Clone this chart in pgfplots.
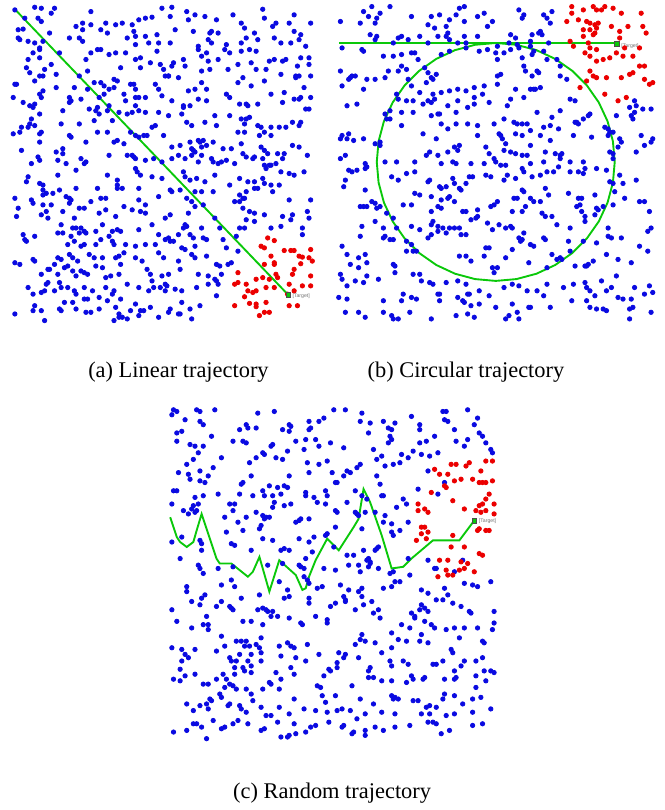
\documentclass[border=0pt]{standalone}
\usepackage{pgfplots}
\pgfplotsset{compat=1.18}
\usepackage{fontspec}
\setmainfont{Liberation Serif}
\newfontfamily\sanstiny{Liberation Sans}
\definecolor{dotblue}{RGB}{10,10,225}
\definecolor{dotred}{RGB}{235,0,0}
\definecolor{trajgreen}{RGB}{10,200,10}
\pgfplotsset{
  panel/.style={scale only axis, hide axis, clip=false, y dir=reverse, xmin=0, ymin=0},
  bdots/.style={only marks, mark=*, mark size=1.1pt, color=dotblue, mark options={draw=dotblue, fill=dotblue}},
  rdots/.style={only marks, mark=*, mark size=1.1pt, color=dotred, mark options={draw=dotred, fill=dotred}},
  traj/.style={trajgreen, line width=0.95pt, no marks},
  tgt/.style={only marks, mark=square*, mark size=1.2pt, mark options={draw=black!70, fill=trajgreen, line width=0.2pt}},
}
\begin{document}
\begin{tikzpicture}
\path (0pt,0pt) rectangle (335pt,405pt);
% ---------------- panel (a)
\begin{axis}[panel, at={(0pt,405pt)}, anchor=north west, width=165pt, height=165pt, xmax=990, ymax=990]
\addplot[bdots] coordinates {
(45,30)(105,22)(125,25)(165,25)(155,40)(115,55)(125,65)(75,55)(275,35)(250,70)(275,75)(230,80)(320,70)(350,75)(370,70)(400,75)(420,60)(440,55)(460,52)(490,25)(520,22)(515,50)(565,35)(590,45)(570,60)(620,50)(655,60)(705,45)(730,70)(740,85)(795,28)(800,55)(825,80)(835,70)(875,70)(890,45)(890,95)(910,105)(940,70)
(55,90)(70,88)(55,115)(60,120)(150,100)(130,125)(85,125)(105,130)(120,145)(210,115)(240,115)(250,125)(325,100)(250,90)(305,90)(385,115)(405,95)(410,110)(410,135)(440,110)(475,105)(450,130)(480,130)(515,130)(530,90)(585,95)(640,95)(635,100)(660,100)(630,120)(640,130)(600,140)(685,135)(730,130)(745,115)(770,100)(780,120)(830,115)(850,130)(905,120)(925,140)(880,130)
(85,180)(120,150)(100,160)(120,175)(180,160)(275,160)(295,150)(305,150)(330,165)(350,160)(380,160)(410,180)(425,175)(475,155)(455,190)(485,195)(525,190)(555,180)(600,150)(610,170)(625,160)(630,185)(660,180)(680,150)(695,160)(730,155)(755,150)(775,155)(815,185)(830,180)(855,185)(865,180)(910,175)(935,175)(775,210)(805,210)(80,205)(90,220)(135,210)(155,195)(170,225)(260,180)(265,215)(365,205)(425,205)(495,210)(510,230)(520,200)(560,200)(610,215)(635,210)(690,210)(720,195)(760,190)(850,225)(895,230)(900,200)(905,230)(935,195)(940,230)
(45,255)(50,255)(105,245)(120,230)(130,275)(120,285)(125,295)(130,230)(225,265)(240,230)(265,270)(285,250)(305,250)(315,260)(330,270)(345,265)(345,240)(355,245)(375,285)(395,255)(410,270)(405,255)(470,255)(480,270)(500,230)(510,230)(540,235)(570,275)(590,270)(610,250)(625,270)(720,250)(735,235)(760,260)(800,245)(860,280)(895,235)(920,265)(940,295)(40,295)(170,265)(210,295)(215,305)(245,300)(300,295)(315,285)(380,305)(410,295)(420,295)(440,295)(490,290)(520,305)(555,320)(575,320)(600,300)(625,305)(685,285)(695,295)(725,315)(745,315)(750,320)(780,315)(820,285)(855,310)(890,300)(905,300)(910,295)(925,330)
(70,310)(90,320)(100,325)(105,315)(120,345)(95,360)(90,375)(105,380)(65,385)(85,385)(60,400)(120,405)(125,400)(190,335)(185,375)(210,310)(240,375)(270,330)(290,335)(300,345)(295,325)(285,365)(325,335)(330,320)(340,365)(360,340)(385,345)(400,340)(410,320)(420,335)(440,340)(480,340)(510,350)(550,345)(555,325)(565,370)(580,380)(620,370)(650,350)(655,380)(695,350)(730,360)(745,360)(755,355)(740,375)(720,400)(740,400)(780,380)(790,385)(800,400)(820,385)(845,385)(865,385)(885,370)(905,380)(910,370)(935,330)(820,410)(785,410)(40,405)
(120,430)(65,455)(170,460)(190,450)(190,465)(210,410)(215,415)(260,430)(295,400)(325,400)(355,425)(345,430)(375,435)(395,400)(410,410)(420,415)(435,410)(445,410)(470,380)(460,385)(495,410)(520,445)(545,440)(575,430)(580,450)(585,455)(590,460)(600,425)(605,430)(615,425)(610,445)(625,440)(645,430)(675,450)(700,450)(730,435)(790,445)(800,455)(810,465)(840,465)(860,465)(885,440)(905,445)(770,475)(765,480)(795,480)(930,470)
(95,495)(115,475)(120,485)(175,485)(200,495)(245,480)(255,495)(260,490)(330,470)(385,470)(400,470)(405,475)(410,480)(440,485)(465,480)(490,490)(520,480)(540,470)(560,480)(580,470)(600,490)(610,470)(640,480)(645,490)(660,495)(670,490)(685,485)(710,495)(735,465)(745,475)(800,500)(805,510)(815,500)(820,500)(835,495)(855,480)(850,520)(875,525)(890,530)(920,520)(85,535)(80,550)(120,555)(130,560)(175,530)(230,515)(325,530)(355,545)(410,510)(415,520)(425,530)(460,535)(490,540)(555,520)(560,535)(575,545)(595,540)(620,550)(650,530)(725,540)(750,550)(770,550)(795,540)(800,555)(820,560)(845,560)
(45,600)(95,605)(130,575)(140,585)(130,590)(160,585)(180,575)(200,595)(210,600)(215,605)(210,615)(230,570)(275,610)(295,570)(305,600)(320,600)(355,560)(355,570)(370,570)(420,570)(420,605)(440,620)(480,595)(515,575)(520,580)(545,575)(565,600)(580,610)(590,580)(610,580)(645,580)(695,560)(725,590)(735,600)(745,580)(740,600)(770,570)(780,570)(825,580)(875,605)(940,605)(710,610)(725,610)(55,630)(100,615)(130,620)(140,640)(145,660)(125,650)(190,640)(225,660)(240,630)(255,630)(300,645)(320,635)(350,655)(375,625)(400,635)(425,640)(440,645)(500,660)(515,650)(570,645)(590,625)(615,620)(650,660)(735,630)(755,640)(770,645)(800,650)(855,655)(885,650)(930,640)(935,660)(50,655)(155,620)
(185,680)(190,705)(220,690)(230,690)(245,690)(255,700)(240,705)(260,705)(290,700)(310,680)(340,700)(355,695)(365,700)(330,715)(420,695)(460,680)(480,710)(510,720)(525,730)(540,710)(560,680)(565,685)(555,690)(575,710)(610,690)(615,720)(665,690)(715,715)(725,690)(740,690)(745,665)(770,670)(820,690)(850,685)(880,665)(915,690)(915,710)(70,710)(75,725)(80,730)(105,715)(175,705)(205,740)(215,715)(225,730)(245,745)(255,740)(290,740)(305,725)(340,730)(345,740)(380,740)(375,765)(410,745)(440,740)(470,740)(500,725)(515,730)(550,750)(560,755)(585,720)(590,745)(625,725)(675,725)(685,750)(720,760)
(45,795)(60,800)(100,785)(105,790)(175,780)(185,785)(205,805)(210,770)(220,780)(235,790)(270,770)(285,780)(310,780)(350,780)(360,775)(365,800)(410,780)(430,790)(480,765)(495,780)(540,790)(580,770)(590,780)(625,775)(655,800)(665,805)(690,800)(700,795)(125,830)(145,815)(150,815)(165,800)(175,830)(180,855)(195,810)(220,820)(230,835)(245,820)(255,825)(265,830)(290,805)(310,810)(320,840)(335,835)(360,830)(385,860)(445,815)(455,830)(460,850)(490,835)(510,830)(545,815)(600,830)(630,835)(655,850)(660,860)(650,845)(670,830)(500,860)(485,870)(505,865)
(85,870)(140,860)(145,855)(100,890)(125,885)(135,880)(165,880)(185,870)(205,870)(225,880)(230,890)(255,870)(255,905)(265,905)(280,880)(300,900)(320,870)(345,880)(340,890)(365,905)(420,870)(450,880)(465,870)(500,880)(530,875)(550,880)(595,870)(630,860)(655,895)(105,925)(100,940)(125,940)(180,935)(185,940)(195,915)(220,915)(230,935)(260,945)(275,945)(300,935)(325,910)(350,930)(360,950)(395,940)(410,920)(425,940)(435,940)(455,930)(515,935)(540,950)(550,915)(575,935)(605,925)(45,950)(135,970)(345,970)(360,960)(370,960)(385,965)(420,955)(480,960)(510,945)(545,950)(580,965)
};
\addplot[rdots] coordinates {
(810,720)(830,728)(790,745)(800,750)(860,758)(880,758)(890,758)(940,755)(905,775)(915,778)(935,780)(945,790)(820,775)(830,795)(830,800)(800,800)(910,798)(720,825)(710,860)(720,855)(745,860)(775,845)(795,840)(815,845)(835,830)(840,840)(885,830)(890,815)(940,835)(940,865)(915,865)(875,860)(750,880)(765,885)(740,898)(775,880)(805,870)(830,870)(890,880)(870,890)(710,925)(755,918)(775,920)(775,928)(805,915)(800,945)(815,945)(785,955)(875,925)(900,925)
};
\addplot[traj] coordinates {(45,28) (870,890)};
\addplot[tgt] coordinates {(872,892)};
\node[anchor=west, inner sep=0pt, font=\sanstiny\fontsize{2.6}{3}\selectfont, text=black!55] at (axis cs:884,895) {[Target]};
\end{axis}
% ---------------- panel (b)
\begin{axis}[panel, at={(167.5pt,405pt)}, anchor=north west, width=167.5pt, height=165pt, xmax=1005, ymax=990]
\addplot[bdots] coordinates {
(25,65)(95,35)(120,20)(175,20)(145,40)(135,55)(110,50)(85,70)(130,70)(240,50)(290,75)(300,50)(310,85)(325,45)(345,80)(355,60)(375,45)(385,25)(400,20)(400,65)(440,50)(460,40)(470,80)(485,65)(565,30)(575,55)(580,45)(640,45)(665,35)(660,70)(650,55)(630,95)
(115,105)(135,110)(130,120)(185,130)(200,115)(210,110)(230,120)(265,110)(290,130)(320,110)(345,110)(350,100)(355,120)(380,130)(400,110)(405,130)(440,110)(540,105)(555,115)(605,105)(625,100)(635,105)(655,130)(535,130)(600,125)
(30,145)(90,150)(95,155)(155,170)(185,170)(210,165)(240,160)(250,160)(260,180)(330,165)(355,155)(405,145)(445,155)(470,150)(495,160)(500,180)(520,160)(540,150)(565,145)(575,175)(600,140)(605,165)(610,155)(640,155)(650,180)(680,180)(690,200)(500,140)(560,135)
(25,215)(50,240)(55,235)(60,230)(70,230)(95,270)(105,240)(130,240)(160,235)(170,215)(200,215)(210,200)(225,210)(230,240)(280,205)(290,220)(300,235)(305,240)(315,225)(285,250)(240,260)(265,280)(305,285)(330,280)(355,275)(380,270)(405,275)(430,265)(460,260)(500,255)(510,225)(500,230)(555,270)(580,200)(585,215)(605,230)(620,215)(625,220)(600,270)(580,295)(610,270)(615,270)(630,265)(690,230)(710,240)(30,260)(195,285)(200,300)(245,305)(275,315)(290,305)(300,310)(310,300)(225,305)(720,300)(735,305)(540,300)(45,320)(75,315)(350,320)(380,305)(430,295)(455,285)(475,310)
(160,345)(175,335)(210,340)(245,340)(300,350)(320,345)(325,345)(375,340)(410,325)(430,315)(530,320)(620,340)(665,355)(690,335)(735,370)(740,370)(745,375)(760,360)(775,350)(780,345)(860,350)(905,350)(915,340)(940,330)(965,330)(920,320)(900,325)(915,305)(910,360)(165,360)(175,360)(210,380)(330,375)(350,390)(375,375)(410,375)(440,380)(490,375)(520,360)(550,370)(560,375)(575,375)(590,375)(600,395)(640,385)(660,380)(685,390)(730,410)(825,385)(835,390)(840,400)(850,400)(30,410)(50,405)(45,420)(65,425)(95,420)(275,405)(315,420)
(25,420)(130,435)(145,430)(145,440)(385,440)(440,410)(505,405)(510,410)(515,420)(525,435)(555,405)(575,410)(600,440)(630,410)(660,425)(785,415)(835,410)(870,420)(875,430)(920,460)(935,410)(945,440)(970,420)(965,430)(865,445)(295,460)(320,470)(350,460)(370,445)(380,455)(465,445)(475,465)(490,480)(495,490)(520,455)(540,460)(555,465)(575,470)(590,470)(645,460)(675,465)(690,470)(695,465)(690,480)(760,490)(840,460)(850,465)(850,480)(25,480)(40,470)(100,495)(160,490)(195,490)(250,490)(285,470)(330,495)(365,490)(375,495)(420,495)(460,495)(510,500)(525,500)(600,495)(640,490)(685,505)(720,490)(765,510)
(50,515)(60,520)(75,515)(100,510)(105,505)(40,545)(35,565)(180,535)(225,525)(250,520)(290,550)(295,545)(325,565)(330,570)(345,565)(365,540)(370,555)(385,570)(390,575)(405,555)(415,535)(425,535)(465,530)(480,535)(520,545)(530,530)(555,540)(575,510)(580,520)(605,535)(630,530)(650,520)(670,520)(720,520)(745,520)(760,525)(800,510)(830,515)(870,530)(880,555)(920,545)(840,550)(850,555)(100,575)(200,545)(575,575)(580,580)(600,600)(645,570)(655,590)(715,585)(745,600)(755,600)(795,590)(855,580)(885,600)(930,610)(300,595)(330,605)(350,600)(355,595)(370,610)(250,585)(265,590)(550,600)(560,600)(610,610)
(85,625)(95,625)(105,625)(120,610)(130,615)(135,630)(145,625)(165,645)(185,660)(215,620)(240,620)(300,640)(320,625)(330,630)(395,640)(405,640)(440,635)(440,655)(480,625)(490,620)(500,610)(545,640)(575,640)(585,625)(630,610)(635,645)(645,655)(665,655)(680,680)(740,625)(750,620)(755,640)(800,630)(805,635)(820,625)(850,620)(765,655)(765,670)(960,640)(90,685)(130,670)(155,690)(195,690)(240,685)(265,695)(300,680)(305,670)(320,685)(335,690)(345,705)(355,690)(370,690)(385,690)(390,710)(420,665)(435,660)(470,675)(485,695)(505,680)(525,690)(540,685)(565,720)(580,705)(545,690)(965,690)(955,700)(835,690)(720,690)(795,650)(945,610)
(85,715)(30,745)(45,770)(55,800)(80,780)(100,770)(105,795)(155,720)(160,715)(175,725)(185,725)(225,730)(240,740)(225,760)(245,760)(255,760)(290,720)(300,710)(320,700)(405,710)(465,750)(475,750)(545,755)(575,725)(570,730)(600,740)(610,745)(640,720)(645,725)(665,770)(690,780)(695,785)(715,730)(720,760)(760,730)(800,735)(835,715)(845,720)(875,720)(930,745)(955,760)(385,775)(405,775)(460,775)(420,790)(500,810)(485,810)(490,825)(525,780)(595,795)(650,810)(680,785)(735,805)(765,805)(770,805)(775,800)(790,790)(830,770)(865,785)(905,795)(80,810)
(25,830)(30,845)(45,865)(70,850)(95,855)(105,835)(140,845)(185,800)(190,805)(190,825)(245,830)(265,830)(270,850)(295,855)(305,860)(320,890)(325,890)(325,910)(345,855)(380,850)(405,860)(410,890)(415,890)(445,880)(475,895)(520,870)(545,860)(565,865)(590,880)(620,880)(640,895)(650,860)(700,870)(730,860)(765,855)(770,870)(780,880)(795,895)(815,850)(830,880)(845,870)(860,835)(865,900)(880,905)(905,905)(915,870)(945,890)(960,865)(970,885)(20,900)(45,905)(155,910)(210,910)(215,890)(240,900)(255,905)(380,900)(395,910)(400,915)(420,925)(445,920)(495,930)(545,920)(560,945)(600,930)(660,930)(725,910)(770,910)(780,930)(800,935)(820,935)(830,940)(900,935)(910,930)(40,945)(80,945)(100,960)(155,945)(180,955)(185,965)(200,965)(235,945)(300,965)(375,955)(410,950)(430,960)(525,965)(535,955)(565,965)(595,930)(900,965)(965,945)
};
\addplot[rdots] coordinates {
(725,20)(725,40)(760,30)(790,20)(800,30)(815,30)(825,20)(850,25)(875,40)(935,40)(710,65)(745,60)(770,65)(780,70)(795,75)(805,70)(800,85)(760,90)(780,90)(790,105)(795,100)(845,80)(870,95)(895,80)(940,80)(950,100)(870,115)(760,110)(720,125)(775,130)(780,145)(800,150)(730,140)(765,160)(780,170)(800,185)(820,180)(840,175)(860,160)(880,170)(910,170)(930,145)(885,145)(780,215)(790,230)(800,235)(770,245)(830,235)(875,235)(900,225)(910,220)(930,200)(945,200)(945,240)(960,255)(970,250)(750,265)(825,285)(890,295)(865,305)
};
\addplot[traj] coordinates {(20,130) (860,130)};
\addplot[traj] coordinates {
(855,490)(849.5,427.5)(833.3,366.9)(806.8,310)(770.8,258.6)(726.4,214.2)(675,178.2)(618.1,151.7)(557.5,135.5)(495,130)(432.5,135.5)(371.9,151.7)(315,178.2)(263.6,214.2)(219.2,258.6)(183.2,310)(156.7,366.9)(140.5,427.5)(135,490)(140.5,552.5)(156.7,613.1)(183.2,670)(219.2,721.4)(263.6,765.8)(315,801.8)(371.9,828.3)(432.5,844.5)(495,850)(557.5,844.5)(618.1,828.3)(675,801.8)(726.4,765.8)(770.8,721.4)(806.8,670)(833.3,613.1)(849.5,552.5)(855,490)
};
\addplot[tgt] coordinates {(862,133)};
\node[anchor=west, inner sep=0pt, font=\sanstiny\fontsize{2.6}{3}\selectfont, text=black!55] at (axis cs:874,140) {[Target]};
\end{axis}
% ---------------- panel (c)
\begin{axis}[panel, at={(82.5pt,205pt)}, anchor=north west, width=172.5pt, height=175pt, xmax=1035, ymax=1050]
\addplot[bdots] coordinates {
(30,40)(40,45)(25,55)(100,40)(110,45)(155,40)(65,70)(110,75)(120,85)(285,50)(335,45)(250,85)(255,95)(230,100)(280,95)(380,85)(385,90)(360,100)(380,105)(440,75)(470,75)(485,65)(515,40)(550,40)(600,50)(595,75)(625,80)(665,75)(680,95)(700,80)(750,60)(775,85)(775,100)(845,45)(855,45)(850,70)(860,75)(920,40)(950,65)(940,85)(880,100)(955,110)
(40,110)(55,105)(40,135)(80,145)(95,150)(120,150)(105,170)(90,190)(70,205)(145,120)(175,185)(210,135)(240,135)(250,140)(260,200)(305,175)(325,150)(330,145)(280,185)(300,170)(340,185)(360,190)(375,165)(400,135)(430,130)(440,100)(445,95)(425,160)(460,130)(470,150)(505,140)(545,155)(495,195)(470,205)(435,200)(620,110)(635,160)(660,180)(645,190)(685,120)(690,130)(680,140)(670,210)(695,205)(720,175)(715,200)(740,185)(775,140)(780,175)(795,135)(805,180)(820,120)(830,170)(885,135)(910,150)(920,130)(965,120)(975,140)(990,160)(995,170)(690,100)(755,165)
(45,230)(75,235)(80,250)(110,225)(110,255)(125,260)(150,215)(135,240)(165,295)(235,265)(240,260)(230,295)(265,240)(270,300)(300,285)(305,300)(320,270)(330,300)(345,275)(355,295)(365,270)(375,275)(380,240)(440,230)(490,285)(495,300)(510,230)(520,260)(525,260)(545,240)(555,225)(565,230)(585,215)(595,205)(645,240)(655,265)(660,300)(580,285)(430,290)(430,300)(800,225)(850,260)(770,280)(830,295)(455,305)
(25,325)(30,285)(40,285)(95,305)(90,330)(105,325)(100,345)(120,300)(60,345)(75,355)(85,340)(95,350)(185,365)(200,325)(215,325)(210,345)(225,380)(250,365)(280,350)(300,360)(305,370)(310,365)(320,365)(290,400)(295,390)(330,335)(335,320)(365,330)(385,325)(400,380)(410,375)(415,370)(440,370)(465,320)(490,325)(520,345)(525,350)(555,320)(580,350)(585,355)(590,360)(610,350)(600,300)(615,310)(640,350)(670,360)(665,380)(705,335)(725,310)(735,325)(740,380)(690,385)(665,300)(190,410)(240,405)(300,430)(330,435)(410,430)(440,440)(455,425)(490,420)(495,415)(520,395)(600,400)
(25,440)(55,425)(110,435)(115,445)(115,465)(50,490)(205,445)(215,450)(265,465)(355,465)(365,460)(380,465)(430,490)(450,470)(515,455)(555,480)(575,480)(605,465)(615,495)(620,490)(625,500)(640,465)(645,460)(650,455)(690,410)(695,420)(715,405)(740,490)(800,495)(905,495)
(105,510)(110,520)(120,535)(165,520)(210,515)(315,510)(360,505)(410,510)(415,515)(425,520)(485,520)(520,525)(560,510)(590,510)(595,530)(625,505)(620,515)(650,520)(685,535)(695,530)(745,540)(715,560)(700,560)(690,575)(665,580)(600,580)(590,590)(560,585)(535,570)(480,575)(465,580)(440,565)(435,555)(425,545)(350,560)(375,585)(365,610)(380,605)(205,555)(175,570)(215,575)(70,575)(70,590)(125,600)(115,610)(85,620)(110,630)(160,635)(175,620)(200,635)(235,610)(285,645)(300,640)(310,645)(315,650)(330,650)(290,600)(545,605)(550,620)(580,645)(600,605)(650,645)(630,620)(820,520)(825,520)(880,530)(910,565)(935,570)(950,575)(990,560)(780,585)(800,595)(850,580)(860,600)(825,615)(845,615)(875,625)(900,635)(930,655)(1000,650)(780,630)(790,640)(775,645)(750,655)(760,665)(440,610)(440,625)
(25,645)(40,680)(85,700)(120,690)(130,665)(135,690)(135,705)(205,640)(210,645)(240,680)(265,680)(300,690)(325,665)(345,665)(380,670)(415,685)(420,690)(460,665)(495,675)(495,685)(505,635)(520,625)(550,615)(605,630)(635,655)(655,670)(720,690)(745,700)(780,720)(790,680)(760,670)(800,650)(810,690)(820,700)(855,705)(880,700)(910,700)(950,700)(965,740)(995,705)(1000,685)(925,650)(175,725)(185,755)(220,740)(235,740)(250,740)(245,755)(260,755)(280,750)(295,775)(295,730)(290,760)(350,755)(375,745)(385,755)(395,760)(435,750)(530,775)(550,780)(580,750)(600,720)(595,735)(610,740)(640,745)(690,715)(710,735)(735,740)(775,740)(800,745)(870,765)(875,775)(895,730)(970,745)(965,790)
(25,760)(55,765)(65,780)(75,790)(95,765)(55,800)(50,825)(160,770)(200,790)(205,800)(220,800)(230,780)(255,800)(265,815)(265,780)(295,800)(355,785)(385,820)(400,790)(430,800)(470,780)(525,805)(545,790)(590,790)(625,820)(620,830)(635,850)(660,775)(690,760)(725,800)(740,810)(750,845)(685,800)(690,815)(815,810)(825,810)(845,800)(900,815)(910,800)(945,800)(970,830)(990,830)(1000,835)(880,830)(30,855)(50,860)(65,845)(95,840)(180,840)(190,855)(215,820)(215,840)(240,820)(245,830)(265,835)(340,835)(355,855)(395,840)(485,845)(500,825)(505,830)(525,820)(620,850)(660,860)(690,860)(735,865)(755,855)(785,855)(790,850)(850,855)(880,855)(885,850)(945,845)(975,860)
(120,870)(135,870)(160,855)(185,880)(200,870)(210,875)(220,885)(250,885)(265,900)(300,885)(320,865)(325,870)(350,885)(395,915)(465,875)(475,880)(480,905)(490,925)(520,905)(570,875)(595,915)(635,930)(690,905)(695,915)(700,910)(710,915)(755,920)(770,920)(795,940)(805,935)(825,940)(845,915)(850,900)(880,905)(905,930)(935,915)(945,880)(960,910)(70,930)(90,950)(110,935)(130,930)(135,945)(140,915)(145,920)(170,900)(175,910)(195,935)(200,930)(230,935)(235,945)(250,955)(270,920)(295,940)(310,965)(325,965)(350,940)(380,960)(425,945)(460,950)(495,955)(525,950)(540,945)(565,950)(610,960)(660,955)(700,960)(780,960)(805,960)(855,965)(880,960)(935,955)(990,945)
(90,990)(100,990)(115,1000)(150,980)(175,1005)(185,1000)(210,990)(225,980)(255,990)(295,1010)(305,1005)(345,985)(355,1030)(375,1030)(380,1025)(400,1020)(395,990)(430,1015)(445,1000)(460,995)(500,985)(540,1000)(545,995)(570,1020)(575,1015)(585,975)(610,1025)(610,1010)(640,1000)(665,1010)(700,1000)(745,995)(800,985)(815,985)(825,990)(840,1020)(865,1010)(935,995)(965,990)(30,1015)(70,1010)(130,1035)
};
\addplot[rdots] coordinates {
(820,220)(835,235)(860,235)(870,205)(885,205)(915,210)(925,200)(935,250)(960,225)(975,195)(995,195)(955,260)(965,260)(975,260)(995,255)(850,270)(855,275)(880,255)(900,250)(810,290)(985,295)(975,310)(1000,325)(965,325)(955,330)(945,345)(960,350)(975,345)(1000,355)(770,325)(770,345)(790,340)(800,350)(875,315)(910,340)(780,395)(790,395)(800,410)(780,415)(795,430)(765,435)(875,420)(870,455)(910,455)(950,405)(975,405)(985,405)(955,400)(835,495)(860,495)(900,500)(920,505)(955,475)(965,480)(855,525)(860,540)(875,540)(910,520)(895,525)(940,530)(830,545)
};
\addplot[traj] coordinates {
(20,365)(40,425)(50,440)(70,455)(90,440)(100,405)(115,355)(160,490)(170,505)(205,505)(255,545)(270,530)(290,485)(320,590)(350,495)(400,540)(420,585)(430,580)(440,545)(460,495)(495,430)(530,465)(575,395)(590,370)(605,280)(625,320)(660,420)(690,520)(725,515)(750,490)(815,435)(895,435)(940,375)
};
\addplot[tgt] coordinates {(940,375)};
\node[anchor=west, inner sep=0pt, font=\sanstiny\fontsize{2.6}{3}\selectfont, text=black!55] at (axis cs:953,378) {[Target]};
\end{axis}
% captions
\node[font=\fontsize{11.3}{13}\selectfont] at (90pt,217.5pt) {(a) Linear trajectory};
\node[font=\fontsize{11.3}{13}\selectfont] at (235pt,217.5pt) {(b) Circular trajectory};
\node[font=\fontsize{11.3}{13}\selectfont] at (167.5pt,5pt) {(c) Random trajectory};
\end{tikzpicture}
\end{document}
